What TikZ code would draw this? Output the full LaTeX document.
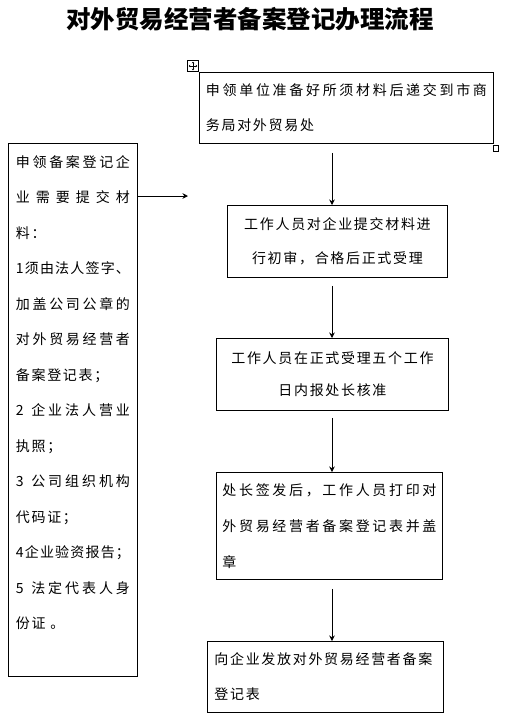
\documentclass[tikz,border=0pt]{standalone}
\usepackage{fontspec}
\setmainfont{Noto Sans CJK SC}
\newfontfamily\cjk{Noto Sans CJK SC}[LetterSpace=12]
\usetikzlibrary{arrows.meta}
\def\jfirst#1{#1\jstep}
\def\jstep#1{\ifx#1\relax\else\hfil#1\expandafter\jstep\fi}
\newcommand\jline[2]{\makebox[#1][s]{\jfirst#2\relax}}
\tikzset{
  box/.style={draw, line width=0.9pt, rectangle, anchor=north west, inner sep=0pt},
  boxtext/.style={font={\cjk\fontsize{14}{#1}\selectfont}},
  arr/.style={-{Stealth[length=5.5pt,width=5.5pt]}, line width=0.9pt},
  handle/.style={draw, line width=0.6pt, inner sep=0pt}
}
\begin{document}
\begin{tikzpicture}[x=1pt,y=-1pt]
\useasboundingbox (0,0) rectangle (505,716);

\node (title) at (250,19) {\fontsize{24.5}{28}\selectfont\bfseries 对外贸易经营者备案登记办理流程};

\node[box, boxtext=35, minimum width=294, minimum height=71, text width=281, align=left] (top) at (199,72)
  {\jline{281pt}{申领单位准备好所须材料后递交到市商}\\务局对外贸易处};

\node[box, boxtext=35.5, minimum width=129, minimum height=533, text width=114, align=left] (left) at (8,143)
  {\jline{114pt}{申领备案登记企}\\
   \jline{114pt}{业需要提交材}\\
   料：\\
   \jline{114pt}{1须由法人签字、}\\
   \jline{114pt}{加盖公司公章的}\\
   \jline{114pt}{对外贸易经营者}\\
   备案登记表；\\
   \jline{114pt}{{2\ }企业法人营业}\\
   执照；\\
   \jline{114pt}{{3\ }公司组织机构}\\
   代码证；\\
   \jline{114pt}{4企业验资报告；}\\
   \jline{114pt}{{5\ }法定代表人身}\\
   份证 。\\
   \mbox{}};

\node[box, boxtext=34, minimum width=220, minimum height=72, text width=210, align=center] (box2) at (227,205)
  {工作人员对企业提交材料进\\行初审，合格后正式受理};

\node[box, boxtext=32, minimum width=232, minimum height=72, text width=220, align=center] (box3) at (216,338)
  {工作人员在正式受理五个工作\\日内报处长核准};

\node[box, boxtext=36, minimum width=226, minimum height=107, text width=214, align=left] (box4) at (216,472)
  {\jline{214pt}{处长签发后，工作人员打印对}\\\jline{214pt}{外贸易经营者备案登记表并盖}\\章};

\node[box, boxtext=35, minimum width=236, minimum height=71, text width=222, align=left] (box5) at (207,641)
  {向企业发放对外贸易经营者备案\\登记表};

\node[handle, minimum size=11.5pt] (move) at (193,66) {};
\draw[line width=0.5pt, {Stealth[length=1.6pt,width=2.6pt]}-{Stealth[length=1.6pt,width=2.6pt]}]
  ([xshift=1.8pt]move.west) -- ([xshift=-1.8pt]move.east);
\draw[line width=0.5pt, {Stealth[length=1.6pt,width=2.6pt]}-{Stealth[length=1.6pt,width=2.6pt]}]
  ([yshift=-1.8pt]move.north) -- ([yshift=1.8pt]move.south);
\node[handle, minimum size=5.5pt] (grip) at (496,148.5) {};

\coordinate (ax) at (332,0);
\coordinate (lt) at (188,196);
\draw[arr] (left.east |- lt) -- (lt);
\draw[arr, shorten <=9pt] (top.south -| ax) -- (box2.north -| ax);
\draw[arr, shorten <=8pt] (box2.south -| ax) -- (box3.north -| ax);
\draw[arr, shorten <=7pt] (box3.south -| ax) -- (box4.north -| ax);
\draw[arr, shorten <=9pt] (box4.south -| ax) -- (box5.north -| ax);
\end{tikzpicture}
\end{document}
